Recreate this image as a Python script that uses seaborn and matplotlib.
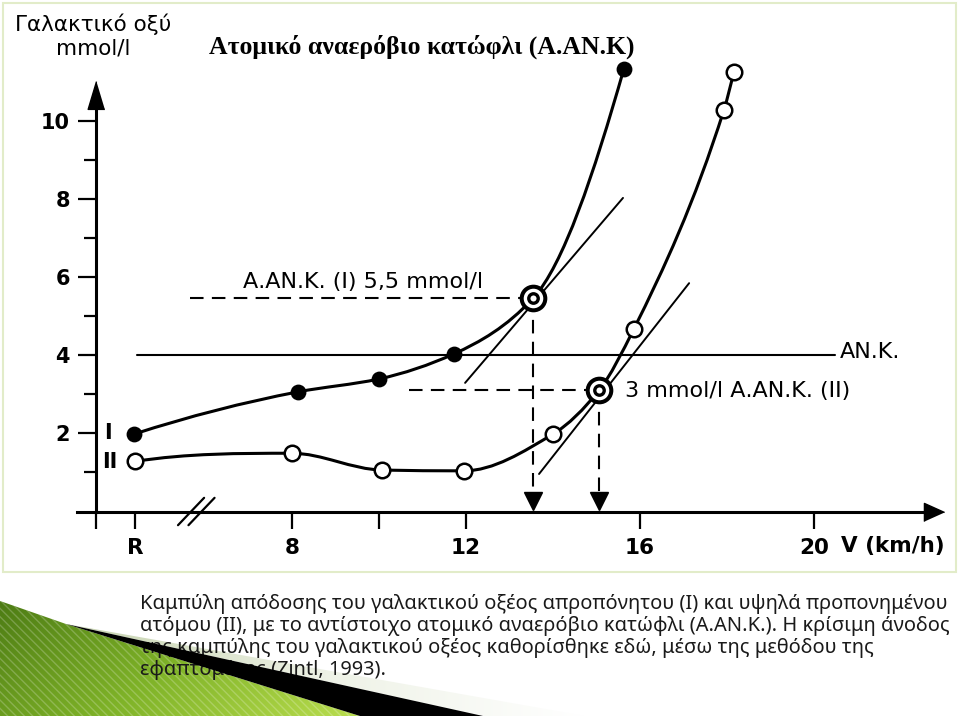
import numpy as np
import pandas as pd
import seaborn as sns
import matplotlib.pyplot as plt
from matplotlib.path import Path
from matplotlib.patches import PathPatch, Polygon, Rectangle
from matplotlib.colors import LinearSegmentedColormap

# %%
# values (speed in km/h, the "R" rest point sits at 4.4)
speed_I = [4.37, 8.14, 10.0, 11.72, 13.54, 15.63]
lactate_I = [1.98, 3.06, 3.39, 4.03, 5.45, 11.32]
speed_II = [4.39, 8.0, 10.07, 11.95, 14.0, 15.06, 15.86, 17.93, 18.16]
lactate_II = [1.28, 1.49, 1.06, 1.04, 1.98, 3.1, 4.67, 10.27, 11.24]

thr_speed = [13.54, 15.06]      # A.AN.K. (I), (II)
thr_lactate = [5.45, 3.1]
thr_from = [5.66, 10.7]          # where the dashed horizontals start

tangent_I_x = [11.98, 15.61]
tangent_I_y = [3.29, 8.02]
tangent_II_x = [13.68, 17.13]
tangent_II_y = [0.96, 5.84]

ank_level = 4.0
ank_x = [4.44, 20.48]

x_ticks = [3.5, 4.4, 8, 10, 12, 16, 20]
x_labels = ['', 'R', '8', '', '12', '16', '20']
y_major = [2, 4, 6, 8, 10]
y_minor = [1, 3, 5, 7, 9]

title = 'Ατομικό αναερόβιο κατώφλι (Α.ΑΝ.Κ)'
y_title = 'Γαλακτικό οξύ\nmmol/l'
caption = ['Καμπύλη απόδοσης του γαλακτικού οξέος απροπόνητου (Ι) και υψηλά προπονημένου',
           'ατόμου (ΙΙ), με το αντίστοιχο ατομικό αναερόβιο κατώφλι (Α.ΑΝ.Κ.). Η κρίσιμη άνοδος',
           'της καμπύλης του γαλακτικού οξέος καθορίσθηκε εδώ, μέσω της μεθόδου της',
           'εφαπτομένης (Zintl, 1993).']


def smooth_path(xs, ys):
    # monotone cubic (pchip style) through the measured points, as bezier segments
    x = np.asarray(xs, float)
    y = np.asarray(ys, float)
    h = np.diff(x)
    s = np.diff(y) / h
    d = np.zeros_like(x)
    for k in range(1, len(x) - 1):
        if s[k - 1] * s[k] > 0:
            w1 = 2 * h[k] + h[k - 1]
            w2 = h[k] + 2 * h[k - 1]
            d[k] = (w1 + w2) / (w1 / s[k - 1] + w2 / s[k])
    for k, (a, b, ha, hb) in ((0, (s[0], s[1], h[0], h[1])), (-1, (s[-1], s[-2], h[-1], h[-2]))):
        e = ((2 * ha + hb) * a - ha * b) / (ha + hb)
        if np.sign(e) != np.sign(a):
            e = 0
        elif np.sign(a) != np.sign(b) and abs(e) > abs(3 * a):
            e = 3 * a
        d[k] = e
    verts, codes = [(x[0], y[0])], [Path.MOVETO]
    for k in range(len(x) - 1):
        verts += [(x[k] + h[k] / 3, y[k] + d[k] * h[k] / 3),
                  (x[k + 1] - h[k] / 3, y[k + 1] - d[k + 1] * h[k] / 3),
                  (x[k + 1], y[k + 1])]
        codes += [Path.CURVE4] * 3
    return Path(verts, codes)


# %%
sns.set_style('white')
plt.rcParams['font.family'] = ['DejaVu Sans']
plt.rcParams['text.color'] = 'black'
plt.rcParams['xtick.color'] = 'black'
plt.rcParams['ytick.color'] = 'black'

fig = plt.figure(figsize=(9.6, 7.16), dpi=100)

# slide background: frame, caption, green swoosh (pixel coords)
bg = fig.add_axes([0, 0, 1, 1], zorder=-1)
bg.axis('off')
bg.add_patch(Rectangle((3, 3), 953, 569, fill=False, ec='#e2ecc9', lw=1.5))

green_pts = [(0, 601), (66, 624), (360, 716), (0, 716)]
green = Polygon(green_pts, closed=True, fc='none', ec='none')
bg.add_patch(green)
gx, gy = np.meshgrid(np.linspace(0, 1, 200), np.linspace(0, 1, 80))
green_cmap = LinearSegmentedColormap.from_list('g', ['#4d7c14', '#7fb328', '#b9dd4e'])
im = bg.imshow(0.7 * gx + 0.3 * gy, extent=(0, 360, 716, 601), cmap=green_cmap,
               aspect='auto', zorder=2)
im.set_clip_path(green)
bg.add_patch(Polygon(green_pts, closed=True, fc='none', ec=(1, 1, 1, 0.22), lw=0,
                     hatch='\\\\\\\\', zorder=3))
light = Polygon([(66, 624), (585, 716), (483, 716)], closed=True, fc='none', ec='none')
bg.add_patch(light)
light_cmap = LinearSegmentedColormap.from_list('l', ['#c5d2ae', '#eef2e6', '#ffffff'])
im2 = bg.imshow(gx, extent=(66, 585, 716, 624), cmap=light_cmap, aspect='auto', zorder=3)
im2.set_clip_path(light)
# caption sits over the green, under the black stripe
for i, line in enumerate(caption):
    bg.text(140, 609 + 22 * i, line, fontsize=14.4, family='Noto Sans', color='#1a1a1a',
            va='baseline', ha='left', zorder=4)
bg.add_patch(Polygon([(66, 624), (483, 716), (360, 716)], closed=True, fc='black', ec='none', zorder=5))
bg.set_xlim(0, 960)
bg.set_ylim(716, 0)

fig.text(422 / 960, 1 - 47 / 716, title, family='Liberation Serif', fontweight='bold',
         fontsize=18.5, ha='center', va='center')
fig.text(93 / 960, 1 - 36 / 716, y_title, fontsize=15.5, ha='center', va='center',
         linespacing=1.2)

# %%
ax = fig.add_axes([0.0803, 0.2856, 0.9035, 0.6007])
ax.set_facecolor('none')
ax.set_xlim(3.06, 23)
ax.set_ylim(0, 11)
sns.despine(ax=ax)
ax.spines['left'].set_position(('data', 3.5))
ax.spines['left'].set_bounds(0, 10.6)
ax.spines['bottom'].set_bounds(3.06, 22.8)
for s in ('left', 'bottom'):
    ax.spines[s].set_linewidth(2.2)
    ax.spines[s].set_color('black')

ax.set_xticks(x_ticks)
ax.set_xticklabels(x_labels)
ax.set_yticks(y_major)
ax.set_yticks(y_minor, minor=True)
ax.tick_params(axis='x', bottom=True, length=12, width=1.6, pad=7, labelsize=15.5, color='black')
ax.tick_params(axis='y', which='major', left=True, length=13, width=1.6, pad=6,
               labelsize=15, color='black')
ax.tick_params(axis='y', which='minor', left=True, length=9, width=1.6, color='black')
for lab in ax.get_xticklabels() + ax.get_yticklabels():
    lab.set_fontweight('bold')
ax.text(20.62, -0.88, 'V (km/h)', fontsize=15.5, fontweight='bold', ha='left', va='center')

# axis arrow heads
ax.plot([3.5], [10.65], marker=[(0, 1), (-0.6, -1), (0.6, -1)], ms=20, color='black', clip_on=False)
ax.plot([22.77], [0], marker=[(1, 0), (-1, 0.9), (-1, -0.9)], ms=14.5, color='black', clip_on=False)

# axis break //
for dx in (-0.12, 0.12):
    ax.plot([5.5 + dx, 6.1 + dx], [-0.35, 0.35], color='black', lw=1.6, clip_on=False)

# curves
for xs, ys in ((speed_I, lactate_I), (speed_II, lactate_II)):
    ax.add_patch(PathPatch(smooth_path(xs, ys), fc='none', ec='black', lw=2.2, clip_on=False,
                           zorder=3))

# tangents and the fixed 4 mmol/l threshold
ax.plot(tangent_I_x, tangent_I_y, color='black', lw=1.4, zorder=2)
ax.plot(tangent_II_x, tangent_II_y, color='black', lw=1.4, zorder=2)
ax.plot(ank_x, [ank_level, ank_level], color='black', lw=1.5, zorder=2)

# dashed guides to the thresholds
for x0, xt, yt in zip(thr_from, thr_speed, thr_lactate):
    ax.plot([x0, xt], [yt, yt], color='black', lw=1.5, dashes=(6.5, 4), zorder=2)
    ax.plot([xt, xt], [yt, 0.3], color='black', lw=1.5, dashes=(6.5, 4), zorder=2)
    ax.plot([xt], [0.27], marker='v', ms=13, color='black', clip_on=False, zorder=4)

# markers
df_I = pd.DataFrame({'speed': speed_I, 'lactate': lactate_I})
df_II = pd.DataFrame({'speed': speed_II, 'lactate': lactate_II})
df_I = df_I[~df_I['speed'].isin(thr_speed)]
df_II = df_II[~df_II['speed'].isin(thr_speed)]
sns.scatterplot(data=df_I, x='speed', y='lactate', ax=ax, s=130, color='black',
                edgecolor='black', linewidth=0, zorder=5, clip_on=False)
sns.scatterplot(data=df_II, x='speed', y='lactate', ax=ax, s=125, color='white',
                edgecolor='black', linewidth=1.8, zorder=5, clip_on=False)
ax.plot(thr_speed, thr_lactate, 'o', ms=17, mfc='white', mec='black', mew=2.9, zorder=6)
ax.plot(thr_speed, thr_lactate, 'o', ms=6.8, mfc='white', mec='black', mew=2.4, zorder=7)
ax.set_xlabel('')
ax.set_ylabel('')

# text labels on the chart
ax.text(6.87, 5.87, 'Α.ΑΝ.Κ. (Ι) 5,5 mmol/l', fontsize=16, ha='left', va='center')
ax.text(15.66, 3.08, '3 mmol/l Α.ΑΝ.Κ. (ΙΙ)', fontsize=16, ha='left', va='center')
ax.text(20.6, 4.08, 'ΑΝ.Κ.', fontsize=16, ha='left', va='center')
ax.text(3.77, 2.0, 'I', fontsize=15, fontweight='bold', ha='center', va='center')
ax.text(3.82, 1.27, 'II', fontsize=15, fontweight='bold', ha='center', va='center')

fig.savefig('out.png', dpi=100, facecolor='white')
